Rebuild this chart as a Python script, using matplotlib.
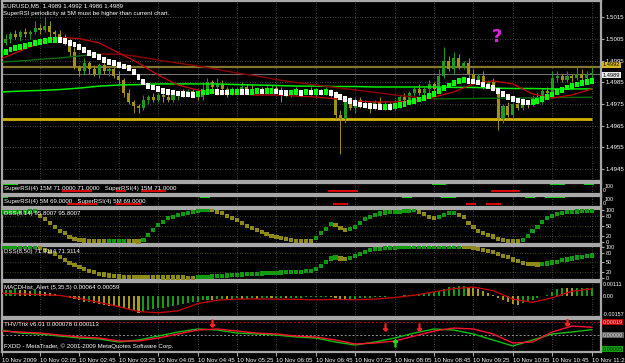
import numpy as np
import matplotlib.pyplot as plt

plt.rcParams["font.family"] = ["Liberation Sans Narrow", "Liberation Sans", "DejaVu Sans"]

# EURUSD M5, 10 Nov 2009, one bar every 5 minutes from 01:25 to 11:25
open_first = 1.5001
close = [1.5003, 1.5005, 1.5007, 1.5006, 1.5008, 1.5007, 1.5008, 1.5010, 1.5009, 1.5011,
         1.5008, 1.5007, 1.5006, 1.5004, 1.4999, 1.4992, 1.4990, 1.4994, 1.4991, 1.4989,
         1.4993, 1.4990, 1.4991, 1.4988, 1.4986, 1.4980, 1.4976, 1.4974, 1.4973, 1.4977,
         1.4978, 1.4977, 1.4979, 1.4978, 1.4977, 1.4979, 1.4980, 1.4979, 1.4981, 1.4980,
         1.4978, 1.4982, 1.4985, 1.4983, 1.4984, 1.4982, 1.4980, 1.4981, 1.4982, 1.4983,
         1.4982, 1.4981, 1.4982, 1.4981, 1.4982, 1.49825, 1.4981, 1.4979, 1.4980, 1.4981,
         1.4980, 1.49805, 1.4981, 1.4980, 1.4981, 1.4980, 1.4981, 1.4980, 1.4970, 1.4968,
         1.4976, 1.4973, 1.4977, 1.4974, 1.4975, 1.4973, 1.4976, 1.4974, 1.4975, 1.4973,
         1.4975, 1.4978, 1.4977, 1.4980, 1.4982, 1.4980, 1.4982, 1.4984, 1.4982, 1.4988,
         1.4995, 1.4991, 1.4996, 1.4992, 1.4994, 1.4989, 1.4985, 1.4988, 1.4984, 1.4985,
         1.4982, 1.4968, 1.4974, 1.4970, 1.4975, 1.4973, 1.4976, 1.4975, 1.4978, 1.4977,
         1.4981, 1.4980, 1.4987, 1.4988, 1.4986, 1.4988, 1.4987, 1.4989, 1.4987, 1.4989,
         1.4989]
# wick lengths above / below the body, in pips
wick_hi = [1, 2, 1, 2, 1, 2, 1, 3, 2, 4, 2, 1, 2, 1, 1, 2, 1, 2, 1, 2,
           1, 2, 1, 1, 2, 1, 2, 1, 1, 2, 1, 2, 1, 1, 2, 1, 1, 2, 1, 1,
           2, 3, 2, 1, 3, 2, 1, 2, 1, 2, 1, 2, 1, 1, 2, 1, 1, 2, 1, 1,
           2, 1, 1, 2, 1, 1, 2, 1, 1, 2, 1, 2, 1, 1, 2, 1, 1, 2, 1, 1,
           2, 1, 2, 1, 1, 2, 1, 2, 1, 3, 6, 2, 3, 2, 1, 2, 2, 1, 2, 1,
           2, 1, 1, 2, 1, 1, 2, 1, 1, 2, 1, 2, 3, 2, 1, 2, 1, 3, 2, 1, 3]
wick_lo = [2, 1, 2, 1, 2, 1, 2, 1, 2, 1, 2, 2, 1, 2, 2, 1, 2, 1, 2, 1,
           2, 1, 2, 1, 2, 2, 1, 3, 2, 1, 2, 1, 1, 2, 1, 1, 2, 1, 1, 2,
           1, 1, 2, 1, 2, 1, 2, 1, 1, 2, 1, 1, 2, 1, 1, 2, 1, 3, 1, 2,
           1, 2, 1, 1, 2, 1, 1, 2, 2, 16, 2, 1, 2, 1, 1, 2, 1, 1, 2, 1,
           1, 2, 1, 1, 2, 1, 1, 2, 1, 2, 1, 1, 2, 1, 1, 2, 1, 1, 2, 1,
           1, 5, 2, 1, 2, 1, 1, 2, 1, 1, 2, 1, 1, 2, 1, 1, 2, 1, 1, 2, 3]
heiken = [1.49985, 1.4999, 1.5000, 1.50008, 1.50013, 1.50018, 1.50024, 1.5003, 1.50035, 1.5004,
          1.50044, 1.50045, 1.50044, 1.5004, 1.50032, 1.50024, 1.50012, 1.49997, 1.49985, 1.49974,
          1.49966, 1.49952, 1.49943, 1.49938, 1.49929, 1.49923, 1.49914, 1.49897, 1.49874, 1.4985,
          1.49833, 1.49826, 1.49819, 1.4981, 1.49805, 1.49802, 1.49798, 1.49796, 1.49793, 1.49791,
          1.49796, 1.49802, 1.49805, 1.49807, 1.49805, 1.49803, 1.49802, 1.49804, 1.49806, 1.49805,
          1.49804, 1.49806, 1.49808, 1.49807, 1.49809, 1.4981, 1.49807, 1.49803, 1.49801, 1.49802,
          1.49804, 1.49801, 1.49804, 1.49802, 1.49805, 1.49803, 1.49804, 1.4980, 1.49791, 1.49782,
          1.49773, 1.49764, 1.49755, 1.49748, 1.49743, 1.4974, 1.49738, 1.49736, 1.49737, 1.49735,
          1.49739, 1.49744, 1.4975, 1.49756, 1.49763, 1.4977, 1.49776, 1.49785, 1.49796, 1.49809,
          1.49823, 1.49834, 1.49846, 1.49856, 1.4986, 1.49856, 1.49853, 1.49848, 1.4984, 1.49831,
          1.49823, 1.4981, 1.49796, 1.49782, 1.49773, 1.49766, 1.49759, 1.49756, 1.49759, 1.49764,
          1.49773, 1.49782, 1.49793, 1.49805, 1.49814, 1.49825, 1.49833, 1.4984, 1.49846, 1.49851,
          1.49856]

# moving averages, read every 4th bar
ma_red = [1.49957, 1.49994, 1.50031, 1.50056, 1.50051, 1.50031, 1.49985, 1.49938, 1.49883, 1.49837,
          1.49814, 1.4980, 1.49796, 1.49791, 1.49791, 1.49786, 1.49782, 1.49773, 1.49763, 1.49759,
          1.49759, 1.49763, 1.49782, 1.49805, 1.49842, 1.49856, 1.49842, 1.49796, 1.49777, 1.49791,
          1.49819]
ma_trend = [1.49943, 1.49948, 1.49955, 1.49962, 1.49971, 1.4998, 1.49979, 1.49968, 1.49952, 1.49938,
            1.49925, 1.49909, 1.49892, 1.49879, 1.49862, 1.49849, 1.49837, 1.49826, 1.49814, 1.49803,
            1.49791, 1.49782, 1.49773, 1.49774, 1.49775, 1.49776, 1.49777, 1.49778, 1.49779, 1.4978,
            1.49781]
ma_lime = [1.49805, 1.49809, 1.49812, 1.49816, 1.49823, 1.49832, 1.49837, 1.49839, 1.49842, 1.49842,
           1.49842, 1.49842, 1.49839, 1.49837, 1.49835, 1.49832, 1.49832, 1.4983, 1.4983, 1.49828,
           1.49828, 1.49828, 1.49828, 1.49826, 1.49826, 1.49823, 1.49821, 1.49821, 1.49819, 1.49819,
           1.49819]
gold_level = 1.4968
olive_level = 1.4992
bid = 1.4989
price_ticks = [1.4945, 1.4955, 1.4965, 1.4975, 1.4985, 1.4995, 1.5005, 1.5015]

# SuperRSI signal stretches (first bar, last bar)
sr15_up = [(0, 3), (88, 90), (112, 114), (119, 120)]
sr15_dn = [(13, 18), (24, 25), (29, 33), (67, 72), (100, 105)]
sr5_up = [(0, 1), (41, 42), (82, 83), (90, 92), (107, 108), (111, 114)]
sr5_dn = [(14, 19), (24, 28), (68, 70), (95, 96), (99, 101)]

dss_fast = [92, 93, 93.5, 94, 94.5, 95, 95.5, 96, 81, 72, 59, 47, 34, 28, 16, 9, 6, 4.5, 3.5, 3,
            2.5, 2, 2.5, 3, 3.2, 3.4, 2.8, 2.2, 1.8, 6, 22, 37, 53, 62, 75, 78, 84, 87, 91, 94,
            97, 99, 100, 99, 94, 90, 81, 75, 69, 59, 50, 44, 37, 31, 25, 19, 16, 12, 9, 6,
            4, 3, 2.5, 2, 12, 28, 41, 56, 53, 44, 38, 41, 47, 59, 72, 78, 84, 89, 92, 93,
            93.5, 95, 97, 98, 100, 93, 87, 79, 76, 79, 84, 90, 91, 84, 79, 60, 48, 35, 27, 22,
            17, 10, 6, 4, 3.5, 3, 6, 19, 35, 48, 63, 74, 81, 87, 90, 93, 95, 95.5, 95.6, 95.7,
            95.8]
dss_slow = [97, 97.5, 98, 98.5, 99, 99, 99.5, 99.5, 94, 89, 82, 75, 66, 56, 48, 41, 34, 28, 23, 19,
            14, 11, 8, 6, 5, 4, 3.4, 3.0, 2.8, 2.6, 2.4, 2.2, 2.0, 1.8, 1.7, 1.6, 1.5, 1.4, 1.3, 1.2,
            2, 3, 4, 5, 6, 7, 8, 9, 10, 11, 12, 13, 14, 14.5, 15, 16, 17, 17.5, 18, 19,
            19.5, 20, 21, 23, 28, 38, 51, 62, 65, 62, 61, 63, 69, 75, 82, 88, 91, 93, 95, 95.5,
            96, 98, 98.5, 99, 99.2, 99.4, 99.5, 99.6, 99.7, 99.8, 99.8, 99.9, 99.9, 100, 98, 97.5, 96, 93, 90, 85,
            82, 77, 70, 67, 59, 53, 48, 44, 43.5, 43, 44, 46, 49, 51, 56, 59, 62, 65, 67, 69,
            71.3]
dss_levels = [20, 50, 80]

# MACD histogram and signal, in 1e-5
macd_hist = [45, 50, 52, 55, 50, 48, 45, 50, 40, 35, 30, 20, 12, 5,
             -10, -20, -30, -40, -40, -50, -55, -65, -70, -75, -80, -88, -95, -110, -125,
             -120, -105, -95, -90, -85, -78, -70, -65, -58, -50, -45, -40, -30,
             -25, -28, -22, -20, -24, -18, -15, -20, -17, -14, -18, -12, -10, -15, -12, -9, -13, -10, -8,
             -8, -6, -5, -4, -3, -2, -4,
             -12, -20, -25, -22, -18,
             -15, -12, -10, -7, -5, -2, 0, 3, 5, 8, 10, 12, 15,
             20, 28, 35, 45, 60, 70, 75, 80, 82,
             75, 65, 55, 40, 25, 10, -10, -30, -45, -60,
             -62, -50, -38, -25, -12, 0, 15, 35, 55, 68, 66, 62, 63, 64, 64, 64]
macd_signal = [25, 20, 15, 8, -15, -45, -78, -115, -125, -110, -55, -28, -20, -19, -20, -22,
               -25, -22, -25, -20, -8, 10, 35, 60, 72, 45, -20, -45, -10, 40, 59]

# THV/Trix lines, in 1e-5, every 4th bar
thv_red = [5.8, 4.4, 2.9, 0, -2.9, -4.4, -8.8, -8.8, -4.4, 1.5, 7.3, 8.8, 5.8, 2.9, 1.5, -1.5,
           -2.9, -7.3, -13.1, -11.7, -8.8, -1.5, 5.8, 10.2, 8.8, 1.5, -11.7, -10.2, 4.4, 13.1, 11.3]
thv_green = [7.3, 2.9, 1.5, -1.5, -4.4, -5.8, -10.2, -7.3, -1.5, 4.4, 8.8, 7.3, 2.9, 1.5, 0, -2.9,
             -4.4, -10.2, -14.6, -10.2, -4.4, 2.9, 8.8, 7.3, 1.5, -7.3, -16, -7.3, 1.5, 4.4, 7.8]
thv_level = 19
arrow_dn_bars = [43, 78, 85, 115]
arrow_dn_vals = [18, 12, 12, 19]
arrow_up_bars = [80]
arrow_up_vals = [-12]

time_labels = ["10 Nov 2009", "10 Nov 02:05", "10 Nov 02:45", "10 Nov 03:25", "10 Nov 04:05",
               "10 Nov 04:45", "10 Nov 05:25", "10 Nov 06:05", "10 Nov 06:45", "10 Nov 07:25",
               "10 Nov 08:05", "10 Nov 08:45", "10 Nov 09:25", "10 Nov 10:05", "10 Nov 10:45",
               "10 Nov 11:25"]

W, H = 625, 363
FS = 4.4
WHITE = "#ffffff"
GRID = "#5a5a5a"
BULL = "#1f9a1f"
BEAR = "#a09014"
PIP = 1e-4
XLIM = (0.28, 121.9)
bars = np.arange(len(close))
grid_bars = np.arange(8, 121, 8)

fig = plt.figure(figsize=(W / 100, H / 100), dpi=100, facecolor="black")


def panel(top, bottom):
    ax = fig.add_axes([2 / W, 1 - bottom / H, 599 / W, (bottom - top) / H])
    ax.set_facecolor("black")
    ax.set_xlim(*XLIM)
    ax.set_xticks([])
    for s in ax.spines.values():
        s.set_color("#a8a8a8")
        s.set_linewidth(1.6)
    ax.yaxis.tick_right()
    ax.tick_params(axis="y", colors="#a8a8a8", labelcolor=WHITE, labelsize=FS, length=2, pad=1.5)
    for b in grid_bars:
        ax.axvline(b, color=GRID, lw=0.6, ls=(0, (1, 2)), zorder=0)
    return ax


def ftext(x, y, s, **kw):
    kw.setdefault("color", WHITE)
    kw.setdefault("fontsize", FS)
    fig.text(x / W, 1 - y / H, s, va="center", ha="left", **kw)


# ---- main price chart
ax = panel(1, 181)
ax.set_ylim(1.493947, 1.502242)
ax.set_yticks(price_ticks, [f"{p:.4f}" for p in price_ticks])
for p in price_ticks:
    ax.axhline(p, color=GRID, lw=0.6, ls=(0, (1, 2)), zorder=0)

c = np.array(close)
o = np.r_[open_first, c[:-1]]
hi = np.maximum(o, c) + np.array(wick_hi) * PIP
lo = np.minimum(o, c) - np.array(wick_lo) * PIP
cc = np.where(c >= o, BULL, BEAR)
ax.vlines(bars, lo, hi, colors=cc, lw=0.7, zorder=2)
ax.bar(bars, np.maximum(np.abs(c - o), 0.3 * PIP), bottom=np.minimum(o, c), width=0.62,
       color=cc, zorder=2)

ax.axhline(olive_level, color="#86762c", lw=1.6, zorder=1)
ax.axhline(bid, color="#8a8a8a", lw=0.6, zorder=1)
ax.hlines(gold_level, XLIM[0], 120, color="#d2b400", lw=2.0, zorder=1)

xs = bars[::4]
ax.plot(xs, ma_lime, color="#00ee00", lw=1.1, zorder=3)
for i in range(len(xs) - 1):
    col = "#0b6a0b" if ma_trend[i + 1] >= ma_trend[i] else "#8a0000"
    ax.plot(xs[i:i + 2], ma_trend[i:i + 2], color=col, lw=1.0, zorder=3)
ax.plot(xs, ma_red, color="#c80000", lw=0.9, zorder=3)

ha = np.array(heiken)
ha_up = np.r_[True, np.diff(ha) >= 0]
ax.bar(bars, 2.6 * PIP, bottom=ha - 1.3 * PIP, width=0.8,
       color=np.where(ha_up, "#00ff00", "#ffffff"), zorder=4)

tr = ax.get_yaxis_transform()
ax.text(1.003, olive_level + 1.0 * PIP, "1.4992", transform=tr, fontsize=FS - 0.3, color="black",
        va="center", bbox=dict(fc="#d8b820", ec="none", pad=0.4))
ax.text(1.003, bid - 0.8 * PIP, "1.4989", transform=tr, fontsize=FS - 0.3, color="black",
        va="center", bbox=dict(fc="#e8e8e8", ec="none", pad=0.4))

ftext(3, 6, "EURUSD,M5  1.4989 1.4992 1.4986 1.4989")
ftext(3, 14, "SuperRSI periodicity at 5M must be higher than current chart.")
fig.text(497 / W, 1 - 37 / H, "?", color="#e020e0", fontsize=13, fontweight="bold",
         family="DejaVu Sans", ha="center", va="center")

# ---- SuperRSI panels
for (top, bot), ups, dns, label in [((182.5, 193.5), sr15_up, sr15_dn,
                                     "SuperRSI(4) 15M 71.0000 71.0000   SuperRSI(4) 15M 71.0000"),
                                    ((195.5, 206.5), sr5_up, sr5_dn,
                                     "SuperRSI(4) 5M 69.0000   SuperRSI(4) 5M 69.0000")]:
    a = panel(top, bot)
    a.set_ylim(0, 100)
    a.set_yticks([])
    for s, e in ups:
        a.hlines(82, s - 0.5, e + 0.5, color="#00e000", lw=1.4)
    for s, e in dns:
        a.hlines(25, s - 0.5, e + 0.5, color="#e00000", lw=1.4)
    ftext(4, (top + bot) / 2 + 0.5, label)
    ftext(605, top + 4, "100", fontsize=FS - 0.6)
    ftext(603, top + 8.3, "0", fontsize=FS - 0.6)

# ---- DSS panels
for (top, bot), vals, ylim, label in [((208.5, 243.5), dss_fast, (-4.7, 104.7),
                                       "DSS(8,14) 95.8007 95.8007"),
                                      ((245.5, 280), dss_slow, (-6.3, 103.2),
                                       "DSS(8,50) 71.3114 71.3114")]:
    a = panel(top, bot)
    a.set_ylim(*ylim)
    a.set_yticks([0, 20, 50, 80, 100])
    a.tick_params(axis="y", labelsize=FS - 0.5)
    for lv in dss_levels:
        a.axhline(lv, color="#5a5a22", lw=0.6, ls=(0, (1, 2)), zorder=0)
    v = np.array(vals)
    up = np.r_[True, np.diff(v) >= 0]
    a.scatter(bars, v, s=9, marker="s", c=np.where(up, "#109a10", "#8e8a18"), lw=0, zorder=3)
    ftext(4, top + 5.5, label)

# ---- MACD panel
a = panel(282, 317)
a.set_ylim(-0.00157, 0.00111)
a.set_yticks([])
h = np.array(macd_hist) * 1e-5
hup = np.r_[True, np.diff(h) >= 0]
a.bar(bars, h, width=0.42, color=np.where(hup, "#179a17", "#a89a18"), zorder=2)
a.plot(xs, np.array(macd_signal) * 1e-5, color="#d00000", lw=0.9, zorder=3)
ytr = a.get_yaxis_transform()
a.text(1.003, 0.00111, "0.00111", transform=ytr, fontsize=FS - 0.3, color=WHITE, va="top")
a.text(1.003, 0.0, "0.00", transform=ytr, fontsize=FS - 0.3, color=WHITE, va="center")
a.text(1.003, -0.00157, "-0.00157", transform=ytr, fontsize=FS - 0.5, color=WHITE, va="bottom")
ftext(4, 287.5, "MACDHist_Alert (5,35,5) 0.00064 0.00059")

# ---- THV / Trix panel
a = panel(319, 352)
a.set_ylim(-24.8, 23.4)
a.set_yticks([])
a.axhline(thv_level, color="#c00000", lw=0.7, ls=(0, (2, 2)), zorder=1)
a.axhline(0, color="#909090", lw=0.7, ls=(0, (2, 2)), zorder=1)
a.plot(xs, thv_green, color="#10c010", lw=1.0, zorder=3)
a.plot(xs, thv_red, color="#ff1030", lw=1.0, zorder=3)
a.scatter(arrow_dn_bars, arrow_dn_vals, marker=r"$\downarrow$", s=26, color="#ff2020", zorder=4)
a.scatter(arrow_up_bars, arrow_up_vals, marker=r"$\uparrow$", s=26, color="#20e020", zorder=4)
ytr = a.get_yaxis_transform()
a.text(1.003, thv_level, "0.00019", transform=ytr, fontsize=FS - 0.5, color="#ffd0d0", va="center",
       bbox=dict(fc="#c00000", ec="none", pad=0.4))
a.text(1.003, 0, "0.00000", transform=ytr, fontsize=FS - 0.5, color="#e8e8e8", va="center",
       bbox=dict(fc="#606060", ec="none", pad=0.4))
a.text(1.003, -21, "0.00005", transform=ytr, fontsize=FS - 0.5, color="#003000", va="center",
       bbox=dict(fc="#10a010", ec="none", pad=0.4))
ftext(4, 324, "THV/Trix v6.01 0.000078 0.000113")
ftext(4, 346, "FXDD - MetaTrader, \u00a9 2001-2009 MetaQuotes Software Corp.")

a.set_xticks(np.r_[XLIM[0] + 0.05, grid_bars], time_labels)
a.tick_params(axis="x", colors="#a8a8a8", labelcolor=WHITE, labelsize=FS, length=3, pad=1.5)
for t in a.get_xticklabels():
    t.set_horizontalalignment("left")

fig.savefig("out.png", dpi=100, facecolor="black")
